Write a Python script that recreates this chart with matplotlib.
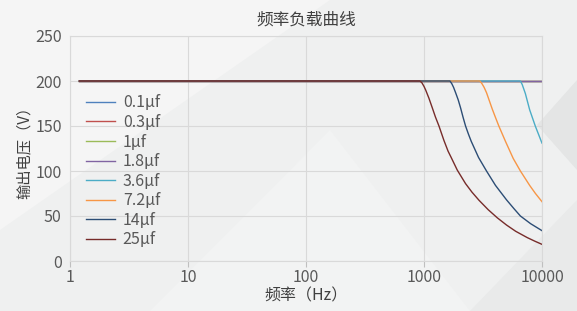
import matplotlib
matplotlib.use("Agg")
import matplotlib.pyplot as plt
from matplotlib.patches import Polygon

plt.rcParams['font.family'] = ['Noto Sans CJK SC', 'DejaVu Sans']

# series data (frequency in Hz, output voltage in V)
labels = ['0.1μf', '0.3μf', '1μf', '1.8μf', '3.6μf', '7.2μf', '14μf', '25μf']
colors = ['#4F81BD', '#C0504D', '#9BBB59', '#8064A2', '#4BACC6', '#F79646', '#2C4D75', '#772C2A']

f_flat = [1.2, 10000]
v_flat = [200, 200]

f_36 = [1.2, 6560, 6800, 7230, 7860, 8770, 9790, 10000]
v_36 = [200, 200, 196, 186, 168, 150, 134, 131]

f_72 = [1.2, 2973, 3100, 3230, 3388, 3580, 3784, 4020, 4306, 4900, 5700, 6561, 7860, 8800, 10000]
v_72 = [200, 200, 197, 193, 187, 178, 169, 160, 150, 133, 114, 100, 84, 75, 65.9]

f_14 = [1.2, 1660, 1720, 1780, 1853, 1950, 2043, 2140, 2250, 2380, 2513, 2900, 3386, 4035,
        5000, 5800, 6560, 8000, 10000]
v_14 = [200, 200, 197, 193, 187, 179, 170, 160, 150, 141, 133, 115, 100, 84,
        68, 58, 50, 41.5, 33.7]

f_25 = [1.2, 925, 960, 1000, 1033, 1100, 1177, 1250, 1339, 1475, 1600, 1700, 1914, 2249, 2550,
        2924, 3500, 4178, 5000, 5986, 7500, 8700, 10000]
v_25 = [200, 200, 198, 194, 190, 181, 170, 160, 150, 134, 122, 115, 101, 86, 76.5,
        67.5, 57, 48, 40, 33, 26, 22, 18.5]

series_f = [f_flat, f_flat, f_flat, f_flat, f_36, f_72, f_14, f_25]
series_v = [v_flat, v_flat, v_flat, v_flat, v_36, v_72, v_14, v_25]

fig = plt.figure(figsize=(5.77, 3.11), dpi=100, facecolor='#EFF0F0')

# faint background shapes
W, H = 577, 311
def bg_poly(pts, color):
    p = Polygon([(x / W, 1 - y / H) for x, y in pts], closed=True,
                transform=fig.transFigure, facecolor=color, edgecolor='none', zorder=-10)
    fig.patches.append(p)

bg_poly([(0, 0), (330, 0), (0, 230)], '#F5F5F5')
bg_poly([(150, 311), (330, 130), (470, 311)], '#F2F3F3')
bg_poly([(577, 80), (537, 125), (577, 170)], '#E4E5E5')
bg_poly([(577, 200), (470, 311), (577, 311)], '#E9EAEA')

ax = fig.add_axes([70 / W, 1 - 261 / H, (542 - 70) / W, (261 - 36) / H])
ax.set_facecolor('none')

for f, v, c, lab in zip(series_f, series_v, colors, labels):
    ax.plot(f, v, color=c, lw=1.0, label=lab)

ax.set_xscale('log')
ax.set_xlim(1, 10000)
ax.set_ylim(0, 250)
ax.set_xticks([1, 10, 100, 1000, 10000])
ax.set_xticklabels(['1', '10', '100', '1000', '10000'])
ax.minorticks_off()
ax.set_yticks([0, 50, 100, 150, 200, 250])

ax.grid(True, color='#D9D9D9', lw=0.8)
ax.set_axisbelow(True)
for s in ax.spines.values():
    s.set_color('#D9D9D9')
    s.set_linewidth(0.8)
ax.tick_params(axis='x', length=4, color='#BFBFBF', labelsize=11.5, labelcolor='#595959', pad=2)
ax.tick_params(axis='y', length=0, labelsize=11.5, labelcolor='#595959', pad=6)

ax.set_title('频率负载曲线', fontsize=12, color='#404040', pad=8)
ax.set_xlabel('频率（Hz）', fontsize=11.5, color='#404040', labelpad=1)
ax.set_ylabel('输出电压（V）', fontsize=11, color='#404040', labelpad=2)

leg = ax.legend(loc='upper left', bbox_to_anchor=(0.034, 0.74), frameon=False,
                fontsize=11.5, handlelength=1.8, handletextpad=0.5,
                labelspacing=0.16, borderpad=0, borderaxespad=0)
for t in leg.get_texts():
    t.set_color('#595959')

fig.savefig('out.png', dpi=100, facecolor=fig.get_facecolor())
